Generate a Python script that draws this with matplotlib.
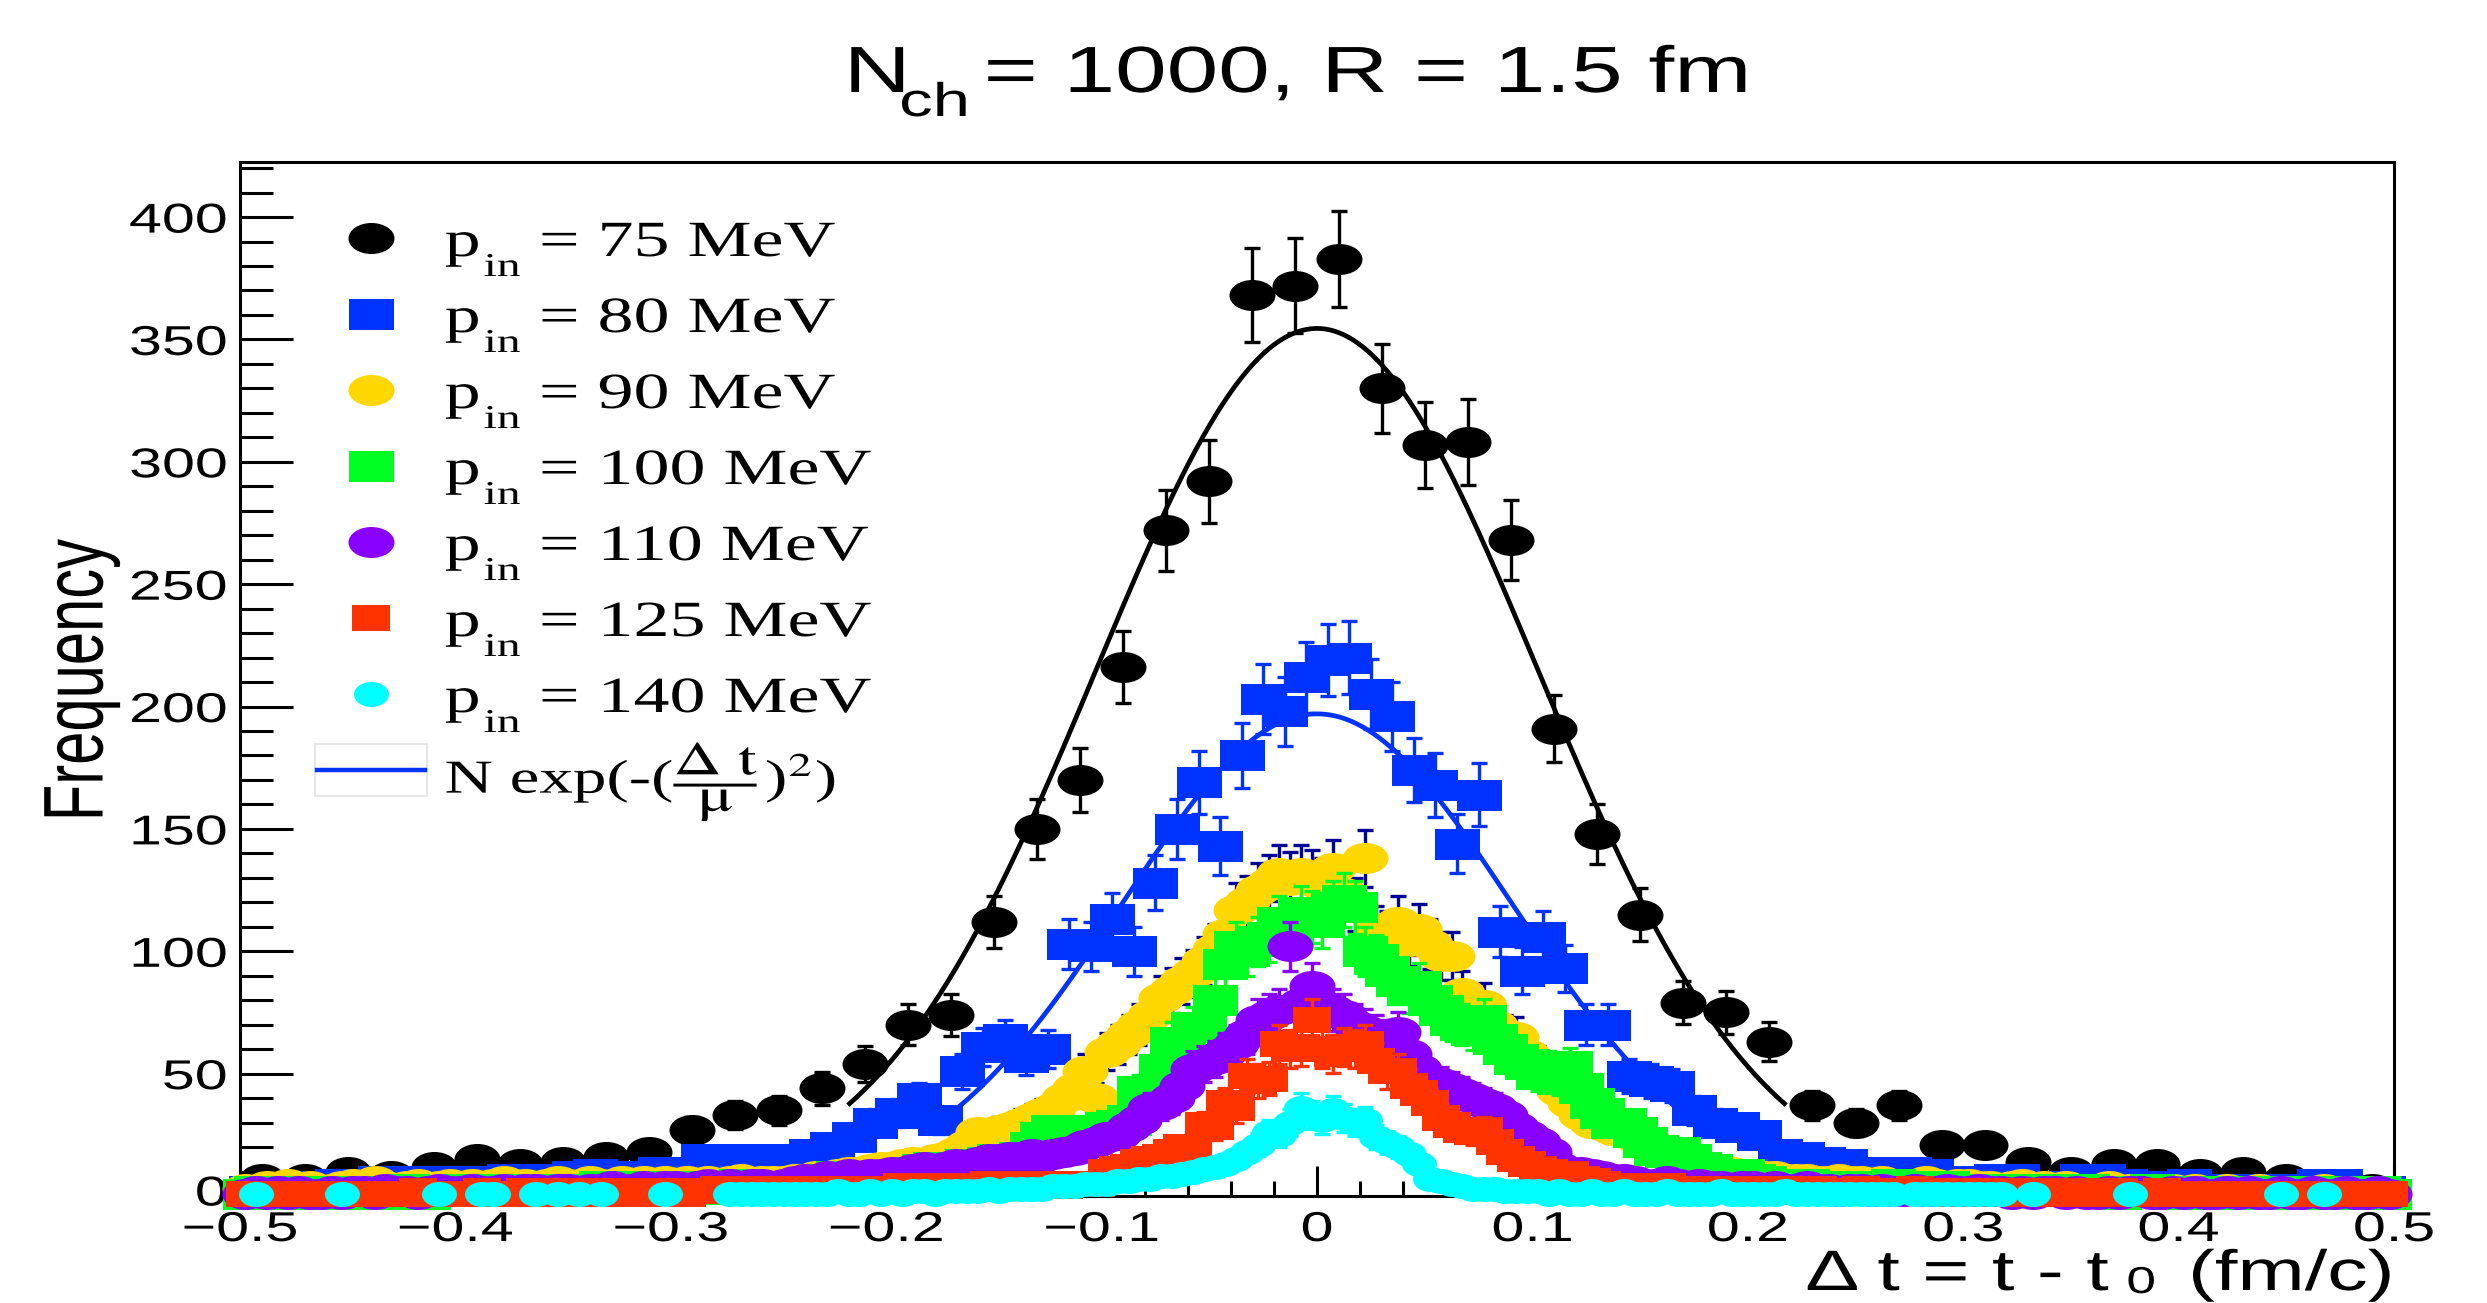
import numpy as np
import matplotlib

matplotlib.use("Agg")

import matplotlib.pyplot as plt
from matplotlib import patheffects
from matplotlib.lines import Line2D
from matplotlib.markers import MarkerStyle
from matplotlib.patches import Rectangle
from matplotlib.ticker import FixedLocator, MultipleLocator
from matplotlib.transforms import Affine2D, ScaledTranslation


W, H, DPI = 2487, 1303, 100
PT = 72 / DPI          # points per pixel
STRETCH = 1.42         # the ROOT canvas was stretched sideways

# ---- data -----------------------------------------------------------------
# counts per bin (zero bins are not drawn)
BIN_75 = 0.02
COUNTS_75 = [
    7, 7, 10, 8, 12, 15, 13, 14, 16, 18,
    27, 33, 35, 44, 54, 70, 74, 112, 150, 170,
    216, 272, 292, 368, 372, 383, 330, 307, 308, 268,
    191, 148, 115, 79, 75, 63, 37, 30, 37, 21,
    21, 14, 10, 13, 13, 9, 10, 7, 5, 3,
]

BIN_80 = 0.01
COUNTS_80 = [
    2, 2, 3, 4, 5, 5, 6, 6, 6, 6,
    6, 6, 7, 7, 7, 8, 9, 8, 8, 10,
    10, 15, 15, 14, 15, 15, 17, 20, 24, 30,
    34, 40, 31, 51, 61, 64, 57, 60, 103, 102,
    113, 100, 128, 150, 169, 143, 180, 203, 198, 212,
    219, 220, 205, 196, 174, 168, 144, 164, 108, 92,
    106, 93, 70, 70, 49, 47, 45, 35, 30, 28,
    25, 17, 16, 14, 13, 8, 10, 10, 9, 6,
    5, 7, 7, 4, 4, 7, 7, 5, 4, 4,
    5, 3, 3, 3, 3, 3, 5, 5, 2, 2,
]

BIN_FINE = 0.005
COUNTS_90 = [
    3, 2, 4, 3, 5, 3, 4, 2, 3, 4,
    5, 3, 6, 4, 3, 4, 5, 3, 4, 5,
    4, 5, 3, 5, 6, 4, 5, 4, 5, 6,
    5, 4, 6, 5, 4, 6, 5, 6, 5, 6,
    5, 6, 4, 6, 5, 6, 7, 5, 6, 6,
    6, 7, 7, 8, 8, 9, 10, 10, 11, 12,
    12, 13, 14, 13, 15, 16, 18, 21, 26, 25,
    27, 28, 30, 32, 34, 36, 40, 44, 51, 40,
    59, 62, 66, 70, 74, 81, 84, 88, 91, 96,
    101, 107, 117, 120, 125, 128, 132, 129, 132, 130,
    127, 134, 124, 119, 138, 108, 106, 112, 104, 109,
    103, 98, 98, 83, 76, 78, 70, 66, 65, 58,
    54, 48, 43, 38, 33, 30, 29, 27, 26, 24,
    23, 20, 19, 17, 15, 13, 12, 11, 10, 9,
    9, 8, 8, 7, 7, 7, 6, 6, 7, 6,
    6, 5, 6, 5, 4, 5, 6, 5, 4, 5,
    5, 4, 4, 3, 4, 5, 3, 4, 3, 4,
    3, 2, 3, 4, 2, 3, 2, 3, 2, 3,
    2, 3, 2, 1, 3, 2, 2, 3, 1, 2,
    2, 1, 2, 3, 1, 2, 2, 1, 2, 1,
]

COUNTS_100 = [
    1, 2, 1, 0, 2, 1, 2, 1, 1, 2,
    2, 1, 2, 2, 1, 3, 2, 1, 2, 2,
    3, 2, 2, 3, 2, 3, 2, 3, 3, 2,
    3, 3, 2, 4, 3, 3, 4, 3, 3, 4,
    3, 4, 4, 3, 4, 4, 5, 4, 3, 4,
    3, 4, 5, 6, 7, 8, 7, 8, 7, 8,
    7, 9, 10, 11, 12, 12, 11, 13, 12, 14,
    15, 14, 16, 20, 24, 27, 25, 26, 27, 26,
    28, 29, 31, 43, 40, 52, 63, 60, 69, 69,
    80, 95, 102, 100, 104, 106, 112, 110, 116, 114,
    112, 118, 121, 118, 100, 97, 92, 88, 84, 86,
    80, 76, 72, 70, 68, 72, 64, 60, 56, 54,
    50, 52, 48, 53, 44, 38, 34, 30, 30, 26,
    22, 19, 18, 18, 15, 12, 11, 9, 8, 9,
    7, 6, 5, 5, 4, 5, 3, 4, 3, 4,
    4, 3, 3, 5, 3, 4, 3, 3, 4, 3,
    3, 2, 3, 3, 2, 3, 2, 2, 3, 2,
    2, 3, 2, 2, 1, 2, 2, 3, 2, 1,
    2, 1, 2, 2, 1, 2, 1, 2, 2, 1,
    1, 2, 1, 2, 1, 1, 2, 1, 2, 1,
]

COUNTS_110 = [
    1, 2, 1, 2, 1, 2, 1, 1, 2, 1,
    2, 2, 1, 3, 2, 2, 1, 2, 3, 2,
    2, 3, 2, 2, 3, 2, 3, 3, 2, 3,
    3, 2, 3, 3, 4, 3, 3, 4, 3, 4,
    4, 3, 4, 5, 4, 5, 4, 5, 5, 4,
    5, 6, 7, 6, 8, 7, 9, 8, 9, 9,
    10, 9, 11, 12, 11, 12, 13, 12, 14, 15,
    15, 16, 16, 17, 16, 17, 18, 19, 21, 22,
    24, 25, 28, 31, 36, 37, 40, 45, 52, 54,
    56, 59, 62, 66, 72, 74, 76, 102, 79, 86,
    78, 76, 74, 70, 68, 66, 64, 67, 58, 52,
    47, 46, 44, 42, 40, 38, 36, 33, 28, 25,
    22, 18, 12, 10, 10, 9, 8, 7, 7, 6,
    5, 5, 6, 5, 4, 5, 4, 4, 3, 4,
    4, 3, 4, 3, 3, 4, 3, 3, 2, 3,
    3, 2, 3, 2, 2, 3, 2, 2, 3, 2,
    2, 3, 2, 2, 1, 2, 1, 2, 2, 1,
    2, 1, 1, 2, 1, 2, 2, 1, 1, 2,
    1, 2, 1, 1, 2, 1, 2, 1, 1, 2,
    1, 1, 2, 1, 1, 2, 1, 1, 2, 1,
]

COUNTS_125 = [
    1, 0, 1, 1, 0, 1, 1, 0, 1, 1,
    0, 1, 1, 1, 0, 1, 2, 1, 1, 0,
    1, 1, 2, 1, 1, 1, 2, 1, 1, 2,
    1, 2, 1, 2, 1, 2, 2, 1, 2, 2,
    2, 1, 2, 2, 3, 2, 2, 3, 2, 2,
    3, 2, 3, 2, 3, 3, 2, 3, 3, 3,
    3, 4, 3, 3, 4, 4, 3, 4, 4, 5,
    4, 5, 5, 4, 5, 5, 4, 5, 5, 5,
    10, 11, 12, 14, 15, 16, 18, 20, 19, 29,
    28, 38, 36, 49, 47, 48, 62, 60, 61, 72,
    60, 58, 61, 60, 62, 55, 51, 51, 45, 42,
    38, 32, 29, 27, 26, 27, 22, 18, 15, 13,
    11, 10, 9, 9, 7, 6, 5, 4, 4, 3,
    4, 3, 4, 3, 3, 3, 2, 3, 2, 3,
    3, 2, 2, 3, 2, 2, 3, 2, 2, 2,
    3, 2, 2, 2, 2, 3, 2, 2, 2, 1,
    2, 2, 1, 2, 2, 1, 2, 1, 2, 1,
    1, 2, 1, 1, 2, 1, 1, 1, 2, 1,
    1, 1, 0, 1, 1, 1, 0, 1, 1, 0,
    1, 0, 1, 1, 0, 1, 1, 0, 1, 1,
]

COUNTS_140 = [
    0, 1, 0, 0, 0, 0, 0, 0, 0, 1,
    0, 0, 0, 0, 0, 0, 0, 0, 1, 0,
    0, 0, 1, 1, 0, 0, 0, 1, 0, 1,
    0, 1, 0, 1, 0, 0, 0, 0, 0, 1,
    0, 0, 0, 0, 0, 1, 1, 1, 1, 1,
    1, 1, 1, 1, 1, 2, 1, 1, 2, 1,
    2, 1, 2, 2, 1, 2, 2, 2, 2, 3,
    2, 3, 3, 3, 3, 4, 4, 4, 5, 5,
    5, 6, 6, 7, 7, 8, 8, 9, 10, 11,
    12, 13, 15, 18, 21, 26, 25, 30, 36, 33,
    31, 35, 32, 30, 31, 24, 22, 20, 17, 13,
    7, 6, 5, 4, 3, 3, 3, 2, 2, 2,
    2, 1, 2, 1, 1, 2, 1, 1, 2, 1,
    1, 1, 2, 1, 1, 1, 1, 2, 1, 1,
    1, 1, 1, 2, 1, 1, 1, 1, 1, 1,
    1, 1, 1, 1, 0, 1, 1, 1, 1, 1,
    1, 1, 1, 1, 0, 0, 1, 0, 0, 0,
    0, 0, 0, 0, 0, 1, 0, 0, 0, 0,
    0, 0, 0, 0, 0, 0, 0, 0, 0, 1,
    0, 0, 0, 1, 0, 0, 0, 0, 0, 0,
]

# Gaussian fits  N exp(-(dt/mu)^2)
FIT_75_N, FIT_75_MU, FIT_75_RANGE = 354.5, 0.145, 0.217
FIT_80_N, FIT_80_MU, FIT_80_RANGE = 197.0, 0.128, 0.166

ENERGIES = ["75", "80", "90", "100", "110", "125", "140"]
COLORS = ["#000000", "#0033ff", "#ffd700", "#00ff22", "#8800ff", "#ff3300", "#00ffff"]
ERR_COLORS = ["#000000", "#0033ff", "#000099", "#00ff22", "#8800ff", "#ff3300", "#00ffff"]
MARKERS = ["o", "s", "o", "s", "o", "s", "o"]
MARKER_H = [31, 31, 31, 31, 31, 27, 25]     # marker height, px
MARKER_W = [46, 45, 46, 45, 46, 38, 35]     # marker width, px

XTICKS = [-0.5, -0.4, -0.3, -0.2, -0.1, 0, 0.1, 0.2, 0.3, 0.4, 0.5]
XTICK_LABELS = ["\u22120.5", "\u22120.4", "\u22120.3", "\u22120.2", "\u22120.1",
                "0", "0.1", "0.2", "0.3", "0.4", "0.5"]
YTICKS = [0, 50, 100, 150, 200, 250, 300, 350, 400]
YTICK_LABELS = ["0", "50", "100", "150", "200", "250", "300", "350", "400"]


class HStretch(patheffects.AbstractPathEffect):
    """Draw text glyphs stretched sideways, like the stretched ROOT canvas."""

    def __init__(self, sx=STRETCH, anchor=0.5):
        super().__init__()
        self.sx = sx
        self.anchor = anchor

    def draw_path(self, renderer, gc, tpath, affine, rgbFace=None):
        ext = tpath.get_extents(affine)
        x0 = ext.x0 + self.anchor * ext.width
        stretched = affine + Affine2D().translate(-x0, 0).scale(self.sx, 1).translate(x0, 0)
        renderer.draw_path(gc, tpath, stretched, rgbFace)


def fxy(px, py):

    return px / W, 1 - py / H


def put_text(fig, px, py, s, size, ha="left", **kw):

    anchor = {"left": 0.0, "center": 0.5, "right": 1.0}[ha]
    t = fig.text(*fxy(px, py), s, ha=ha, va="baseline", fontsize=size, **kw)
    t.set_path_effects([HStretch(anchor=anchor)])
    return t


def bin_centers(width, n):

    return -0.5 + width * (np.arange(n) + 0.5)


def marker_style(kind, w, h):

    return MarkerStyle(kind, transform=Affine2D().scale(w / h, 1))


def draw_series(ax, x, counts, i):

    y = np.asarray(counts, dtype=float)
    keep = y > 0
    z = 3 + 0.1 * i
    ax.errorbar(x[keep], y[keep], yerr=np.sqrt(y[keep]), fmt="none",
                ecolor=ERR_COLORS[i], elinewidth=2.4, capsize=6, capthick=2.4,
                zorder=z, clip_on=False)
    ax.plot(x[keep], y[keep], linestyle="none",
            marker=marker_style(MARKERS[i], MARKER_W[i], MARKER_H[i]),
            markersize=MARKER_H[i] * PT, markeredgewidth=0, color=COLORS[i],
            zorder=z + 0.05, clip_on=False)


def draw_fit(ax, n, mu, half_range, color, z):

    t = np.linspace(-half_range, half_range, 400)
    ax.plot(t, n * np.exp(-(t / mu) ** 2), color=color, lw=3.4, zorder=z)


def main():

    plt.rcParams["font.family"] = ["Liberation Sans", "DejaVu Sans"]
    plt.rcParams["mathtext.fontset"] = "custom"
    plt.rcParams["mathtext.rm"] = "Liberation Sans"
    plt.rcParams["mathtext.it"] = "Liberation Sans:italic"
    plt.rcParams["mathtext.bf"] = "Liberation Sans:bold"

    fig = plt.figure(figsize=(W / DPI, H / DPI), dpi=DPI)
    ax = fig.add_axes([240 / W, 1 - 1196 / H, (2394 - 240) / W, (1196 - 162) / H])
    ax.set_xlim(-0.5, 0.5)
    ax.set_ylim(0, 422.5)

    all_counts = [COUNTS_75, COUNTS_80, COUNTS_90, COUNTS_100,
                  COUNTS_110, COUNTS_125, COUNTS_140]
    widths = [BIN_75, BIN_80] + [BIN_FINE] * 5

    # blue first, then black on top of it, then the narrow ones
    for i in [1, 0, 2, 3, 4, 5, 6]:
        counts = all_counts[i]
        draw_series(ax, bin_centers(widths[i], len(counts)), counts, i)
        if i == 1:
            draw_fit(ax, FIT_80_N, FIT_80_MU, FIT_80_RANGE, COLORS[1], 3.17)
        if i == 0:
            draw_fit(ax, FIT_75_N, FIT_75_MU, FIT_75_RANGE, COLORS[0], 3.07)

    # axes, ticks
    for spine in ax.spines.values():
        spine.set_linewidth(2.2)
    ax.xaxis.set_major_locator(FixedLocator(XTICKS))
    ax.xaxis.set_minor_locator(MultipleLocator(0.02))
    ax.yaxis.set_major_locator(FixedLocator(YTICKS))
    ax.yaxis.set_minor_locator(MultipleLocator(10))
    ax.set_xticklabels(XTICK_LABELS, fontsize=30)
    ax.set_yticklabels(YTICK_LABELS, fontsize=30)
    ax.tick_params(which="both", direction="in", top=False, right=False, width=2.2)
    ax.tick_params(axis="y", which="major", length=53 * PT, pad=13 * PT)
    ax.tick_params(axis="y", which="minor", length=33 * PT)
    ax.tick_params(axis="x", which="major", length=30 * PT, pad=14 * PT)
    ax.tick_params(axis="x", which="minor", length=15 * PT)
    for lab in ax.get_xticklabels():
        lab.set_path_effects([HStretch(anchor=0.5)])
    ylabels = ax.get_yticklabels()
    for lab in ylabels:
        lab.set_path_effects([HStretch(anchor=1.0)])
    # lift the "0" a little so it clears the "-0.5" below it
    ylabels[0].set_transform(ylabels[0].get_transform()
                             + ScaledTranslation(0, 6 / DPI, fig.dpi_scale_trans))

    # title  N_ch = 1000, R = 1.5 fm   (ROOT puts subscripts quite low)
    put_text(fig, 846, 92, "N", 47)
    put_text(fig, 900, 116, "ch", 34)
    put_text(fig, 985, 92, "= 1000, R = 1.5 fm", 47)

    ylab = fig.text(*fxy(81, 680), "Frequency", rotation=90,
                    ha="center", va="center", fontsize=43)
    ylab.set_path_effects([HStretch(anchor=0.5)])

    # x title  Δ t = t - t_0 (fm/c), right aligned to the frame
    put_text(fig, 1806, 1290, "Δ t = t - t", 41)
    put_text(fig, 2127, 1293, "0", 27)
    put_text(fig, 2393, 1290, "(fm/c)", 41, ha="right")

    # legend, laid out by hand like the ROOT TLegend
    rows_y = [238, 314, 390, 466, 542, 618, 694]
    serif = dict(fontfamily="Liberation Serif")
    for i, energy in enumerate(ENERGIES):
        mx, my = fxy(371, rows_y[i])
        fig.add_artist(Line2D([mx], [my], transform=fig.transFigure, linestyle="none",
                              marker=marker_style(MARKERS[i], MARKER_W[i], MARKER_H[i]),
                              markersize=MARKER_H[i] * PT, markeredgewidth=0,
                              color=COLORS[i]))
        base = rows_y[i] + 18
        put_text(fig, 445, base, "p", 36.5, **serif)
        put_text(fig, 484, base + 20, "in", 24, **serif)
        put_text(fig, 540, base, "= " + energy + " MeV", 36.5, **serif)

    bx, by = fxy(315, 796)
    fig.add_artist(Rectangle((bx, by), 112 / W, 52 / H, transform=fig.transFigure,
                             fill=False, edgecolor="#e6e6e6", lw=1.5))
    lx0, ly = fxy(317, 770)
    lx1, _ = fxy(425, 770)
    fig.add_artist(Line2D([lx0, lx1], [ly, ly], transform=fig.transFigure,
                          color=COLORS[1], lw=3.2))
    put_text(fig, 445, 793, r"N exp(-($\dfrac{\Delta\ \mathrm{t}}{\mathrm{\mu}}$)$^{2}$)",
             34, math_fontfamily="stix", **serif)

    fig.savefig("out.png", dpi=DPI, facecolor="white")
    plt.close(fig)


if __name__ == "__main__":
    main()
